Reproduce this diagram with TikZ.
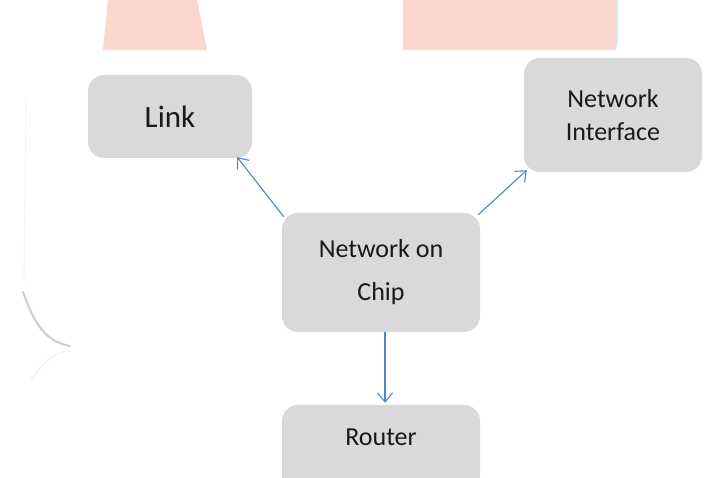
\documentclass[tikz,border=0pt]{standalone}
\usepackage{fontspec}
\setmainfont{Carlito}
\usetikzlibrary{arrows.meta}
\definecolor{boxgrey}{RGB}{217,217,217}
\definecolor{arrblue}{RGB}{84,133,196}
\definecolor{salmon}{RGB}{252,215,207}
\definecolor{shadowgrey}{RGB}{205,205,205}
\tikzset{
  box/.style={fill=boxgrey, rounded corners=16pt, inner sep=0pt, text=black!90, align=center},
  arr/.style={draw=arrblue, line width=1.1pt, -{Straight Barb[length=9pt,width=15pt,line width=1.1pt]}},
}
\begin{document}
\begin{tikzpicture}[x=1pt,y=-1pt]
\useasboundingbox (0,0) rectangle (713,478);
\clip (0,0) rectangle (713,478);
\fill[white] (0,0) rectangle (713,478);
% background remnants at top
\fill[salmon] (108,0) -- (197,0) -- (207,50) -- (103,50) -- cycle;
\fill[salmon] (403,0) -- (616,0) -- (616,40) to[out=-90,in=90] (614,50) -- (403,50) -- cycle;
\draw[shadowgrey!60, line width=2pt] (617,0) -- (617,40) to[out=-90,in=90] (615,50);
% faint shadow curve at left
\draw[white!94!black, line width=0.8pt] (26,100) -- (24,280);
\draw[shadowgrey, line width=2pt, line cap=round] (23,292) to[out=-70,in=170] (70,346);
\draw[white!94!black, line width=1pt] (30,380) to[out=50,in=190] (70,350);
% nodes
\node[box, minimum width=164pt, minimum height=83pt, font=\fontsize{31}{33}\selectfont] (link) at (170,116.5) {Link};
\node[box, minimum width=178pt, minimum height=114pt, font=\fontsize{26}{33}\selectfont] (ni) at (613,115) {Network\\Interface};
\node[box, minimum width=198pt, minimum height=119pt, font=\fontsize{26}{43}\selectfont] (noc) at (381,272.5) {Network on\\Chip};
\node[box, minimum width=198pt, text height=41pt, text depth=45pt, font=\fontsize{26}{30}\selectfont, anchor=base] (router) at (381,446) {Router};
% connectors
\draw[arr] ([xshift=2pt,yshift=-4pt]noc.north west) -- ([xshift=-15pt,yshift=1pt]link.south east);
\draw[arr] ([xshift=-2pt,yshift=-2pt]noc.north east) -- ([xshift=3pt,yshift=2pt]ni.south west);
\draw[arr] ([xshift=4pt]noc.south) -- ([xshift=4pt,yshift=2pt]router.north);
\end{tikzpicture}
\end{document}
